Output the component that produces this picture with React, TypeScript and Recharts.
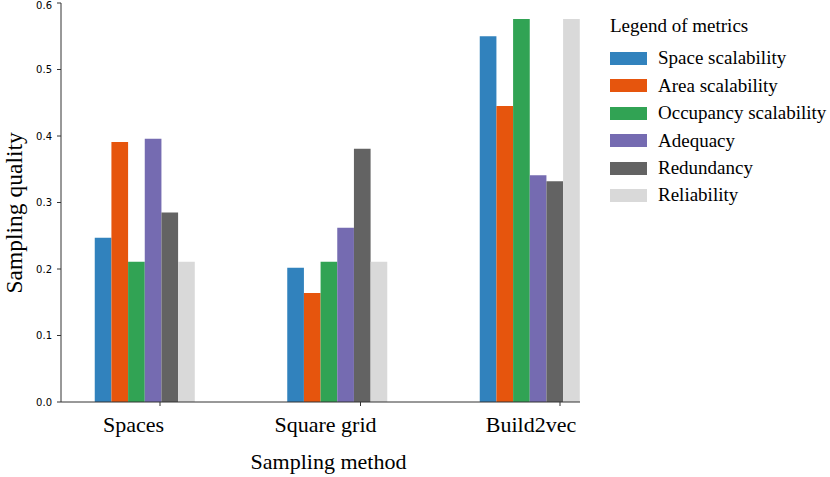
import { Bar, BarChart, XAxis, YAxis } from "recharts";

const METHODS = ["Spaces", "Square grid", "Build2vec"];
const METRICS = [
  "Space scalability",
  "Area scalability",
  "Occupancy scalability",
  "Adequacy",
  "Redundancy",
  "Reliability",
];
const COLORS = ["#3182bd", "#e6550d", "#31a354", "#756bb1", "#636363", "#d9d9d9"];

const SPACE_SCALABILITY = [0.247, 0.202, 0.55];
const AREA_SCALABILITY = [0.391, 0.164, 0.445];
const OCCUPANCY_SCALABILITY = [0.211, 0.211, 0.576];
const ADEQUACY = [0.396, 0.262, 0.341];
const REDUNDANCY = [0.285, 0.381, 0.332];
const RELIABILITY = [0.211, 0.211, 0.576];

const Y_TICKS = [0, 0.1, 0.2, 0.3, 0.4, 0.5, 0.6];

const SERIES = [
  SPACE_SCALABILITY,
  AREA_SCALABILITY,
  OCCUPANCY_SCALABILITY,
  ADEQUACY,
  REDUNDANCY,
  RELIABILITY,
];

const data = METHODS.map((method, i) => {
  const row: Record<string, string | number> = { method };
  METRICS.forEach((m, j) => {
    row[m] = SERIES[j][i];
  });
  return row;
});

const SERIF = "'Liberation Serif', 'Times New Roman', serif";
const SANS = "'DejaVu Sans', sans-serif";

// matplotlib put the ticks / labels a bit off the group centres
const TICK_SHIFT = [15, 23, 30];
const LABEL_SHIFT = [-11.5, -12, 1];

function MethodTick(props: any) {
  const { x, y, payload, index } = props;
  const i = index ?? METHODS.indexOf(payload.value);
  const tx = x + TICK_SHIFT[i];
  return (
    <g>
      <line x1={tx} x2={tx} y1={y - 8} y2={y - 4} stroke="#333" strokeWidth={1} />
      <text
        x={x + LABEL_SHIFT[i]}
        y={y + 22}
        textAnchor="middle"
        fontFamily={SERIF}
        fontSize={22}
        fill="#000"
      >
        {payload.value}
      </text>
    </g>
  );
}

function LegendBox() {
  return (
    <div
      style={{
        position: "absolute",
        left: 610,
        top: 15,
        width: 220,
        fontFamily: SERIF,
        color: "#000",
      }}
    >
      <div style={{ fontSize: 19, lineHeight: "22px", height: 29.8 }}>Legend of metrics</div>
      {METRICS.map((m, i) => (
        <div
          key={m}
          style={{ display: "flex", alignItems: "center", height: 27.4, fontSize: 19, whiteSpace: "nowrap" }}
        >
          <span
            style={{
              display: "inline-block",
              width: 37,
              height: 13,
              background: COLORS[i],
              marginRight: 11,
              flexShrink: 0,
            }}
          />
          <span>{m}</span>
        </div>
      ))}
    </div>
  );
}

export default function App() {
  return (
    <div style={{ position: "absolute", left: 0, top: 0, width: 830, height: 477, background: "#fff" }}>
      <BarChart
        width={830}
        height={477}
        data={data}
        margin={{ top: 3, right: 250, left: 0, bottom: 45 }}
        barGap={0}
        barSize={16.67}
      >
        <XAxis
          dataKey="method"
          height={30}
          padding={{ left: -12.25, right: -46.25 }}
          axisLine={{ stroke: "#333", strokeWidth: 1 }}
          tickLine={false}
          tick={<MethodTick />}
          interval={0}
          label={{
            value: "Sampling method",
            position: "insideBottom",
            offset: -37,
            fontFamily: SERIF,
            fontSize: 22,
            fill: "#000",
            dx: 8,
          }}
        />
        <YAxis
          width={61}
          domain={[0, 0.6]}
          ticks={Y_TICKS}
          tickFormatter={(v: number) => v.toFixed(1)}
          tick={{ fontFamily: SANS, fontSize: 10, fill: "#000" }}
          tickSize={4}
          tickMargin={5}
          tickLine={{ stroke: "#333" }}
          axisLine={{ stroke: "#333", strokeWidth: 1 }}
          label={{
            value: "Sampling quality",
            angle: -90,
            position: "insideLeft",
            offset: 13.5,
            dy: 91,
            fontFamily: SERIF,
            fontSize: 23.5,
            fill: "#000",
          }}
        />
        {METRICS.map((m, i) => (
          <Bar key={m} dataKey={m} fill={COLORS[i]} isAnimationActive={false} />
        ))}
      </BarChart>
      <LegendBox />
    </div>
  );
}
